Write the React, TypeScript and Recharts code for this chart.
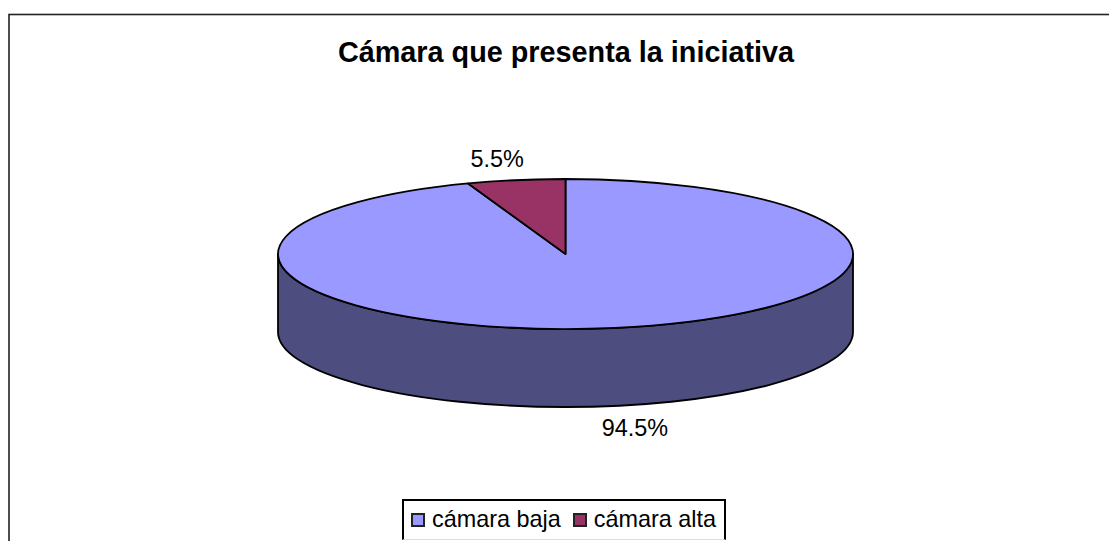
import React from "react";
import { PieChart, Pie, Cell, Legend } from "recharts";

const categories = ["cámara baja", "cámara alta"];
const shares = [94.5, 5.5];
const percentLabels = ["94.5%", "5.5%"];

const topColors = ["#9999FF", "#993366"];
const wallColors = ["#4D4D80", "#4D1A33"];
const labelOffsets = [{ dx: 20, dy: 22 }, { dx: -19, dy: -21 }];

const rows = categories.map((name, i) => ({ name, value: shares[i] }));

const FONT = "'Liberation Sans', Arial, sans-serif";
const SQUASH = 75 / 287.5;
const DEPTH = 78;
const STROKE = 1.8;

const pt = (cx: number, cy: number, rx: number, ry: number, deg: number) => {
  const r = (deg * Math.PI) / 180;
  return [cx + rx * Math.cos(r), cy - ry * Math.sin(r)];
};

function Slab(props: any) {
  const { cx, cy, outerRadius, startAngle, endAngle, index } = props;
  const rx = outerRadius;
  const ry = outerRadius * SQUASH;
  const [sx, sy] = pt(cx, cy, rx, ry, startAngle);
  const [ex, ey] = pt(cx, cy, rx, ry, endAngle);
  const large = Math.abs(startAngle - endAngle) > 180 ? 1 : 0;
  const top = `M${cx},${cy} L${sx},${sy} A${rx},${ry} 0 ${large} 1 ${ex},${ey} Z`;
  const wallFrom = Math.min(startAngle, 0);
  const wallTo = Math.max(endAngle, -180);
  let wall = null as React.ReactNode;
  if (wallFrom > wallTo) {
    const [ax, ay] = pt(cx, cy, rx, ry, wallFrom);
    const [bx, by] = pt(cx, cy, rx, ry, wallTo);
    const d = `M${ax},${ay} A${rx},${ry} 0 0 1 ${bx},${by} L${bx},${by + DEPTH} A${rx},${ry} 0 0 0 ${ax},${ay + DEPTH} Z`;
    wall = <path d={d} fill={wallColors[index]} stroke="#000" strokeWidth={STROKE} strokeLinejoin="round" />;
  }
  return (
    <g>
      {wall}
      <path d={top} fill={topColors[index]} stroke="#000" strokeWidth={STROKE} strokeLinejoin="round" />
    </g>
  );
}

function SliceLabel(props: any) {
  const { cx, cy, outerRadius, midAngle, index } = props;
  const rx = outerRadius;
  const ry = outerRadius * SQUASH;
  const [x, y] = pt(cx, cy, rx, ry, midAngle);
  const down = y > cy ? DEPTH : 0;
  return (
    <text
      x={x + labelOffsets[index].dx}
      y={y + down + labelOffsets[index].dy}
      textAnchor="middle"
      dominantBaseline="central"
      fontFamily={FONT}
      fontSize={23.4}
      fill="#000"
    >
      {percentLabels[index]}
    </text>
  );
}

function LegendBox(props: any) {
  const items = props.payload || [];
  return (
    <div
      style={{
        position: "relative",
        boxSizing: "border-box",
        width: 324,
        height: 41,
        background: "#fff",
        borderTop: "2px solid #000",
        borderLeft: "2px solid #000",
        borderRight: "2px solid #000",
        borderBottom: "1px solid #ddd",
        fontFamily: FONT,
        fontSize: 23.4,
        lineHeight: "26px",
        color: "#000",
        display: "flex",
        alignItems: "center",
        paddingLeft: 7,
        paddingBottom: 3,
        whiteSpace: "nowrap",
      }}
    >
      {items.map((it: any, i: number) => (
        <span key={i} style={{ display: "inline-flex", alignItems: "center", marginRight: 12 }}>
          <span
            style={{
              display: "inline-block",
              boxSizing: "border-box",
              width: 14,
              height: 14,
              background: topColors[i],
              border: "2px solid #222",
              marginRight: 7,
              marginTop: 3,
            }}
          />
          {it.value}
        </span>
      ))}
    </div>
  );
}

export default function App() {
  return (
    <div style={{ position: "absolute", left: 0, top: 0, width: 1109, height: 541, overflow: "hidden", background: "#fff" }}>
      <PieChart width={1109} height={541} margin={{ top: 0, right: 0, bottom: 0, left: 0 }}>
        <rect x={9} y={14.5} width={1130} height={560} fill="#fff" stroke="#222" strokeWidth={1.6} />
        <text x={566} y={62} textAnchor="middle" fontFamily={FONT} fontWeight="bold" fontSize={28.8} fill="#000">
          Cámara que presenta la iniciativa
        </text>
        <Pie
          data={rows}
          dataKey="value"
          nameKey="name"
          cx={565.5}
          cy={254}
          innerRadius={0}
          outerRadius={287.5}
          startAngle={90}
          endAngle={-270}
          isAnimationActive={false}
          shape={Slab}
          label={SliceLabel}
          labelLine={false}
          legendType="square"
        >
          {rows.map((r, i) => (
            <Cell key={r.name} fill={topColors[i]} />
          ))}
        </Pie>
        <Legend
          content={LegendBox}
          itemSorter={null}
          wrapperStyle={{ position: "absolute", left: 402, top: 499, width: 324, height: 41 }}
        />
      </PieChart>
    </div>
  );
}
